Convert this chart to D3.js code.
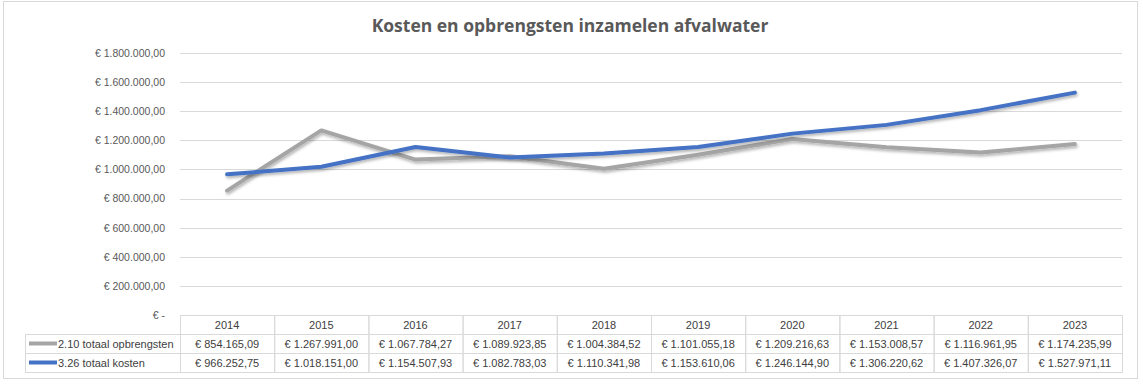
<!DOCTYPE html>
<html>
<head>
<meta charset="utf-8">
<script src="https://cdn.jsdelivr.net/npm/d3@7"></script>
<style>
  body { margin: 0; background: #fff; }
  text { font-family: "Liberation Sans", Arial, sans-serif; }
</style>
</head>
<body>
<script>
// data
var years = [2014, 2015, 2016, 2017, 2018, 2019, 2020, 2021, 2022, 2023];
var opbrengsten = [854165.09, 1267991.00, 1067784.27, 1089923.85, 1004384.52, 1101055.18, 1209216.63, 1153008.57, 1116961.95, 1174235.99];
var kosten = [966252.75, 1018151.00, 1154507.93, 1082783.03, 1110341.98, 1153610.06, 1246144.90, 1306220.62, 1407326.07, 1527971.11];
var seriesNames = ["2.10 totaal opbrengsten", "3.26 totaal kosten"];
var seriesColors = ["#A5A5A5", "#4472C4"];
var yTicks = [0, 200000, 400000, 600000, 800000, 1000000, 1200000, 1400000, 1600000, 1800000];

window.onload = function(){
    var width = 1143, height = 384;
    var left = 180, right = 1122, top = 53, bottom = 315;
    var rowH = 19;

    var nl = d3.formatLocale({decimal: ",", thousands: ".", grouping: [3], currency: ["€ ", ""]});
    var fmt = function(v){ return v === 0 ? "€ -" : "€ " + nl.format(",.2f")(v); };

    var svg = d3.select('body').append('svg')
        .attr('width', width)
        .attr('height', height);

    // drop shadow like Excel's line shadow
    var f = svg.append('defs').append('filter').attr('id', 'shadow')
        .attr('x', '-5%').attr('y', '-20%').attr('width', '110%').attr('height', '140%');
    f.append('feDropShadow').attr('dx', 1).attr('dy', 2).attr('stdDeviation', 1.5)
        .attr('flood-color', '#000').attr('flood-opacity', 0.3);

    // chart border
    svg.append('rect')
        .attr('x', 3.5).attr('y', 1.5)
        .attr('width', 1134).attr('height', 377)
        .style('fill', '#fff').style('stroke', '#D9D9D9');

    svg.append('text')
        .attr('x', 570).attr('y', 32)
        .attr('text-anchor', 'middle')
        .style('font-family', '"Open Sans", sans-serif')
        .style('font-weight', 'bold')
        .style('font-size', '17.5px')
        .style('fill', '#595959')
        .text('Kosten en opbrengsten inzamelen afvalwater');

    var x = d3.scaleBand().domain(years).range([left, right]);
    var y = d3.scaleLinear().domain([0, 1800000]).range([bottom, top]);

    // gridlines
    svg.append('g').selectAll('line').data(yTicks.slice(1)).enter().append('line')
        .attr('x1', left).attr('x2', right)
        .attr('y1', function(d){ return Math.round(y(d)) + 0.5; })
        .attr('y2', function(d){ return Math.round(y(d)) + 0.5; })
        .style('stroke', '#D9D9D9');

    // y axis labels
    var yAxis = svg.append('g')
        .attr('transform', 'translate(' + (left - 15) + ',0)')
        .call(d3.axisLeft(y).tickValues(yTicks).tickFormat(fmt).tickSize(0).tickPadding(0));
    yAxis.select('.domain').remove();
    yAxis.selectAll('text')
        .style('font-size', '10.5px')
        .style('fill', '#595959')
        .style('font-family', '"Liberation Sans", Arial, sans-serif');

    // lines
    var series = [opbrengsten, kosten];
    var line = d3.line()
        .x(function(d, i){ return x(years[i]) + x.bandwidth() / 2; })
        .y(function(d){ return y(d); });
    svg.append('g').selectAll('path').data(series).enter().append('path')
        .attr('d', line)
        .attr('filter', 'url(#shadow)')
        .style('fill', 'none')
        .style('stroke', function(d, i){ return seriesColors[i]; })
        .style('stroke-width', 4)
        .style('stroke-linecap', 'round')
        .style('stroke-linejoin', 'round');

    // data table
    var table = svg.append('g')
        .style('font-size', '11px')
        .style('fill', '#404040');
    var border = '#D9D9D9';

    // header row cells
    var header = table.selectAll('g.hdr').data(years).enter().append('g').attr('class', 'hdr');
    header.append('rect')
        .attr('x', function(d){ return x(d) + 0.5; })
        .attr('y', bottom + 0.5)
        .attr('width', x.bandwidth())
        .attr('height', rowH)
        .style('fill', 'none').style('stroke', border);
    header.append('text')
        .attr('x', function(d){ return x(d) + x.bandwidth() / 2; })
        .attr('y', bottom + 13.5)
        .attr('text-anchor', 'middle')
        .style('fill', '#404040')
        .text(function(d){ return d; });

    // series rows
    series.forEach(function(vals, r){
        var ry = bottom + rowH * (r + 1);
        table.append('rect')
            .attr('x', 25.5).attr('y', ry + 0.5)
            .attr('width', left - 25).attr('height', rowH)
            .style('fill', 'none').style('stroke', border);
        table.append('line')
            .attr('x1', 29).attr('x2', 57)
            .attr('y1', ry + 9.5).attr('y2', ry + 9.5)
            .style('stroke', seriesColors[r]).style('stroke-width', 4);
        table.append('text')
            .attr('x', 58).attr('y', ry + 13.5)
            .style('fill', '#404040')
            .text(seriesNames[r]);
        var cells = table.append('g').selectAll('g').data(vals).enter().append('g');
        cells.append('rect')
            .attr('x', function(d, i){ return x(years[i]) + 0.5; })
            .attr('y', ry + 0.5)
            .attr('width', x.bandwidth()).attr('height', rowH)
            .style('fill', 'none').style('stroke', border);
        cells.append('text')
            .attr('x', function(d, i){ return x(years[i]) + x.bandwidth() / 2; })
            .attr('y', ry + 13.5)
            .attr('text-anchor', 'middle')
            .style('fill', '#404040')
            .text(function(d){ return fmt(d); });
    });
};
</script>
</body>
</html>
